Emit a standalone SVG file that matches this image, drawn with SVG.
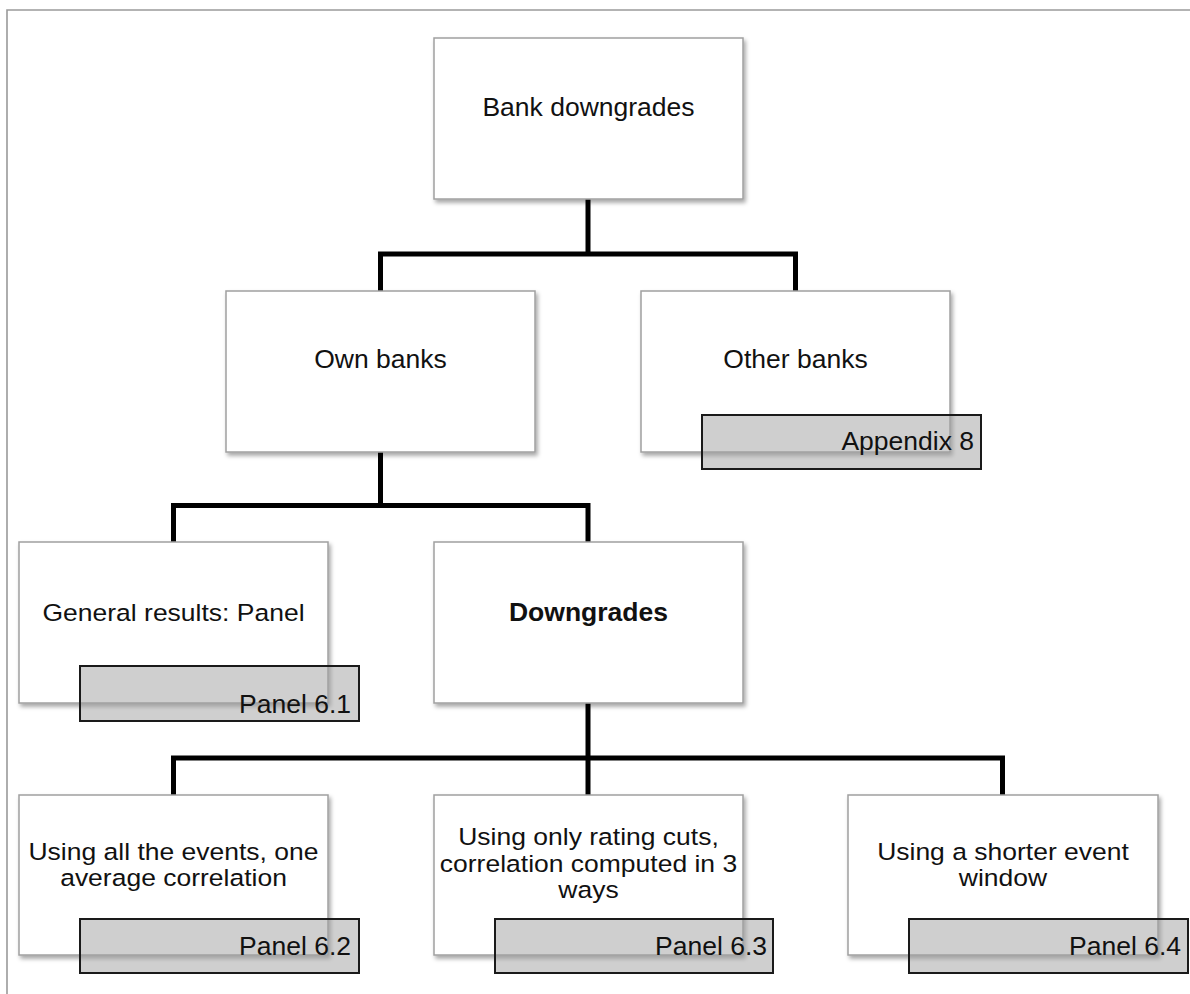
<svg xmlns="http://www.w3.org/2000/svg" width="1190" height="994" viewBox="0 0 1190 994">
  <defs>
    <filter id="sh" x="-5%" y="-5%" width="115%" height="120%">
      <feDropShadow dx="2" dy="3" stdDeviation="2" flood-color="#000" flood-opacity="0.35"/>
    </filter>
  </defs>
  <style>
    .box { fill: #ffffff; stroke: #a0a0a0; stroke-width: 1.5; filter: url(#sh); }
    .tag { fill: #a0a0a0; fill-opacity: 0.5; stroke: #1a1a1a; stroke-width: 2; }
    .t { font-family: "Liberation Sans", Arial, sans-serif; font-size: 26.5px; fill: #111; text-anchor: middle; }
    .s { font-size: 23.3px; }
    .b { font-weight: bold; }
    .p { font-family: "Liberation Sans", Arial, sans-serif; font-size: 26.5px; fill: #111; text-anchor: end; }
    .c { fill: none; stroke: #000; stroke-width: 5; stroke-linejoin: miter; stroke-linecap: butt; }
    .frame { fill: none; stroke: #9a9a9a; stroke-width: 1.6; }
  </style>
  <rect width="1190" height="994" fill="#fff"/>
  <path class="frame" d="M7,994 V10 H1190"/>

  <g id="connectors">
    <path class="c" d="M588,199 V254"/>
    <path class="c" d="M380.5,291 V254 H795.5 V291"/>
    <path class="c" d="M380.5,452 V505.5"/>
    <path class="c" d="M173.5,542 V505.5 H588 V542"/>
    <path class="c" d="M588,703 V758"/>
    <path class="c" d="M173.5,795 V758 H1002.5 V795"/>
    <path class="c" d="M588,758 V795"/>
  </g>

  <g id="bank-downgrades">
    <rect class="box" x="434" y="38" width="309" height="161"/>
    <text class="t" x="588.5" y="116">Bank downgrades</text>
  </g>

  <g id="own-banks">
    <rect class="box" x="226" y="291" width="309" height="161"/>
    <text class="t" x="380.5" y="368">Own banks</text>
  </g>

  <g id="other-banks">
    <rect class="box" x="641" y="291" width="309" height="161"/>
    <text class="t" x="795.5" y="368">Other banks</text>
    <rect class="tag" x="702" y="415" width="279" height="54"/>
    <text class="p" x="974" y="450">Appendix 8</text>
  </g>

  <g id="general-results">
    <rect class="box" x="19" y="542" width="309" height="161"/>
    <g transform="translate(173.5,0) scale(1.137,1)">
      <text class="t s" x="0" y="621">General results: Panel</text>
    </g>
    <rect class="tag" x="80" y="666" width="279" height="55"/>
    <text class="p" x="351" y="713">Panel 6.1</text>
  </g>

  <g id="downgrades">
    <rect class="box" x="434" y="542" width="309" height="161"/>
    <text class="t b" x="588.5" y="621">Downgrades</text>
  </g>

  <g id="all-events">
    <rect class="box" x="19" y="795" width="309" height="160"/>
    <g transform="translate(173.5,0) scale(1.137,1)">
      <text class="t s" x="0" y="860">Using all the events, one</text>
      <text class="t s" x="0" y="886">average correlation</text>
    </g>
    <rect class="tag" x="80" y="919" width="279" height="54"/>
    <text class="p" x="351" y="955">Panel 6.2</text>
  </g>

  <g id="rating-cuts">
    <rect class="box" x="434" y="795" width="309" height="160"/>
    <g transform="translate(588.5,0) scale(1.137,1)">
      <text class="t s" x="0" y="845">Using only rating cuts,</text>
      <text class="t s" x="0" y="872">correlation computed in 3</text>
      <text class="t s" x="0" y="898">ways</text>
    </g>
    <rect class="tag" x="495" y="919" width="278" height="54"/>
    <text class="p" x="767" y="955">Panel 6.3</text>
  </g>

  <g id="shorter-window">
    <rect class="box" x="848" y="795" width="310" height="160"/>
    <g transform="translate(1003,0) scale(1.137,1)">
      <text class="t s" x="0" y="860">Using a shorter event</text>
      <text class="t s" x="0" y="886">window</text>
    </g>
    <rect class="tag" x="909" y="919" width="279" height="54"/>
    <text class="p" x="1181" y="955">Panel 6.4</text>
  </g>
</svg>
